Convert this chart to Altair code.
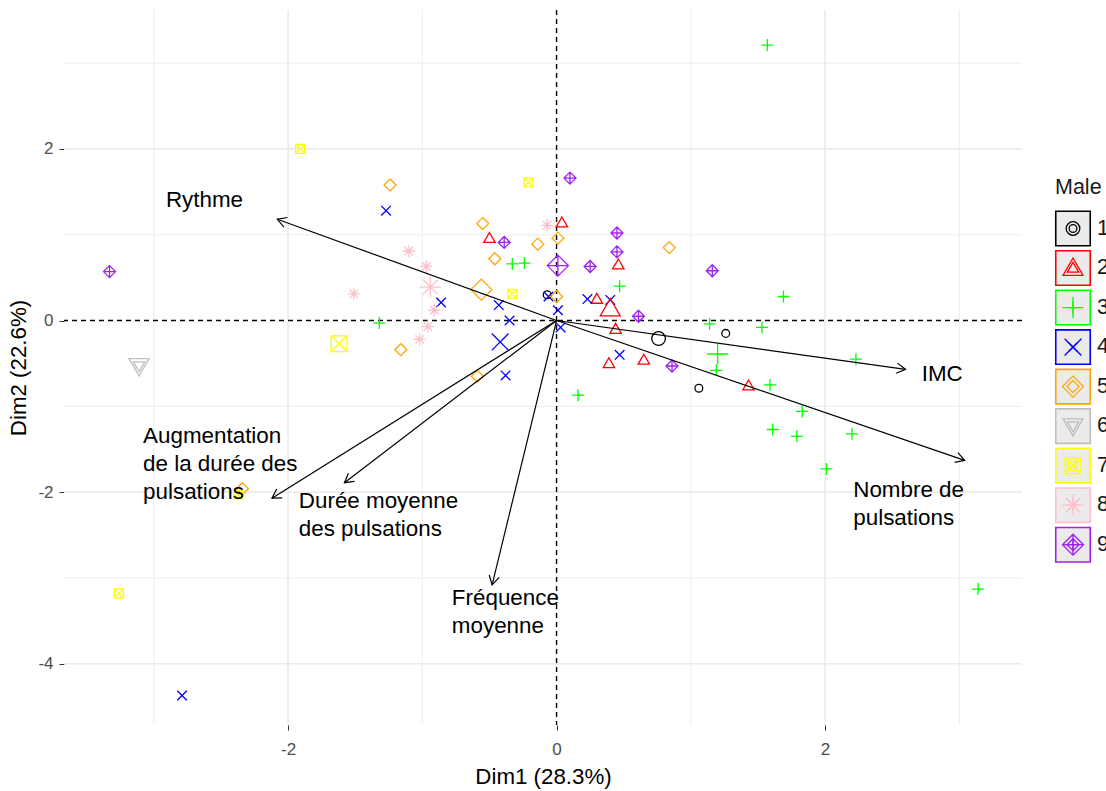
import math
import altair as alt
import pandas as pd

FONT = "Liberation Sans"

GROUPS = ["1", "2", "3", "4", "5", "6", "7", "8", "9"]
COLORS = ["#000000", "#FF0000", "#00FF00", "#0000FF", "#FFA500",
          "#BEBEBE", "#FFFF00", "#FFC0CB", "#A020F0"]
SHAPES = [
    "M0.65,0A0.65,0.65 0 1,1 -0.65,0A0.65,0.65 0 1,1 0.65,0Z",            # open circle
    "M0,-0.95L0.95,0.7L-0.95,0.7Z",                                        # triangle
    "M-1,0L1,0M0,-1L0,1",                                                  # plus
    "M-0.8,-0.8L0.8,0.8M-0.8,0.8L0.8,-0.8",                                # cross
    "M0,-1L1,0L0,1L-1,0Z",                                                 # diamond
    "M0,0.95L0.95,-0.7L-0.95,-0.7Z",                                       # triangle down
    "M-0.75,-0.75L0.75,-0.75L0.75,0.75L-0.75,0.75ZM-0.75,-0.75L0.75,0.75M-0.75,0.75L0.75,-0.75",  # square cross
    "M-1,0L1,0M0,-1L0,1M-0.7,-0.7L0.7,0.7M-0.7,0.7L0.7,-0.7",              # asterisk
    "M0,-1L1,0L0,1L-1,0ZM-1,0L1,0M0,-1L0,1",                               # diamond plus
]

# ---- individuals (Dim1, Dim2) by group ----
g1_x = [-0.07, 1.26, 1.06]
g1_y = [0.30, -0.15, -0.79]
g2_x = [0.04, -0.50, 0.46, 0.30, 0.44, 0.39, 0.65, 1.43]
g2_y = [1.14, 0.96, 0.65, 0.25, -0.10, -0.50, -0.46, -0.76]
g3_x = [1.57, -0.33, -0.24, 0.47, -1.32, 1.69, 1.14, 1.53, 2.23, 1.19,
        1.59, 0.16, 1.83, 1.61, 1.79, 2.20, 2.01, 3.14]
g3_y = [3.21, 0.66, 0.67, 0.40, -0.03, 0.28, -0.04, -0.08, -0.45, -0.58,
        -0.75, -0.87, -1.06, -1.27, -1.35, -1.32, -1.73, -3.13]
g4_x = [-1.27, -0.86, -0.43, -0.06, 0.01, 0.23, 0.40, -0.35, 0.03, 0.47, -0.38, -2.79]
g4_y = [1.28, 0.21, 0.18, 0.28, 0.12, 0.25, 0.24, 0.00, -0.08, -0.40, -0.64, -4.37]
g5_x = [-1.24, -0.55, -0.14, 0.01, 0.84, -0.46, 0.00, -1.16, -0.59, -2.34]
g5_y = [1.58, 1.13, 0.89, 0.96, 0.85, 0.72, 0.28, -0.34, -0.65, -1.96]
g6_x = [-3.11]
g6_y = [-0.53]
g7_x = [-1.91, -0.21, -0.33, -2.37, -3.26]
g7_y = [2.00, 1.61, 0.31, -2.03, -3.18]
g8_x = [-0.07, -1.10, -0.97, -1.51, -0.91, -0.96, -1.02]
g8_y = [1.11, 0.81, 0.63, 0.31, 0.12, -0.07, -0.22]
g9_x = [0.10, -0.39, 0.45, 0.45, 0.25, 1.16, 0.61, 0.86, -3.33]
g9_y = [1.66, 0.91, 1.02, 0.80, 0.63, 0.58, 0.05, -0.53, 0.57]

# ---- group centres ----
mean_x = [0.76, 0.40, 1.20, -0.42, -0.56, -3.11, -1.62, -0.94, 0.01]
mean_y = [-0.21, 0.14, -0.39, -0.25, 0.36, -0.53, -0.27, 0.39, 0.64]

# ---- variables (arrow tips) and their labels ----
var_names = ["Rythme", "IMC", "Nombre de\npulsations",
             "Augmentation\nde la durée des\npulsations",
             "Durée moyenne\ndes pulsations", "Fréquence\nmoyenne"]
var_x = [-2.08, 2.60, 3.04, -2.12, -1.58, -0.48]
var_y = [1.18, -0.57, -1.63, -2.07, -1.89, -3.08]
lab_x = [-2.91, 2.72, 2.21, -3.08, -1.92, -0.78]
lab_y = [1.53, -0.50, -1.85, -1.22, -1.98, -3.11]

X_DOMAIN = [-3.669, 3.467]
Y_DOMAIN = [-4.714, 3.619]
W, H = 958, 715
PX_X = W / (X_DOMAIN[1] - X_DOMAIN[0])
PX_Y = H / (Y_DOMAIN[1] - Y_DOMAIN[0])

groups_x = [g1_x, g2_x, g3_x, g4_x, g5_x, g6_x, g7_x, g8_x, g9_x]
groups_y = [g1_y, g2_y, g3_y, g4_y, g5_y, g6_y, g7_y, g8_y, g9_y]
rows = []
for g, xs_, ys_ in zip(GROUPS, groups_x, groups_y):
    for a, b in zip(xs_, ys_):
        rows.append({"group": g, "x": a, "y": b})
ind = pd.DataFrame(rows)
means = pd.DataFrame({"group": GROUPS, "x": mean_x, "y": mean_y})

angles = [(math.degrees(math.atan2(a * PX_X, b * PX_Y)) + 360) % 360
          for a, b in zip(var_x, var_y)]
vars_df = pd.DataFrame({"name": var_names, "x": var_x, "y": var_y,
                        "x0": [0.0] * 6, "y0": [0.0] * 6, "ang": angles,
                        "lx": lab_x, "ly": lab_y})

grid_major_x = [-2, 2]
grid_minor_x = [-3, -1, 1, 3]
grid_major_y = [-4, -2, 2]
grid_minor_y = [-3, -1, 1, 3]

xs = alt.Scale(domain=X_DOMAIN, nice=False, zero=False)
ys = alt.Scale(domain=Y_DOMAIN, nice=False, zero=False)
color_scale = alt.Scale(domain=GROUPS, range=COLORS)
shape_scale = alt.Scale(domain=GROUPS, range=SHAPES)

x_axis = alt.Axis(values=[-2, 0, 2], labelExpr="'' + datum.value", grid=False,
                  domain=False, ticks=True, tickSize=5, tickColor="#333333",
                  labelFontSize=17, labelColor="#4D4D4D", labelFont=FONT,
                  labelPadding=11, title="Dim1 (28.3%)", titleFontSize=22.3,
                  titleFont=FONT, titleFontWeight="normal", titleColor="#000000",
                  titlePadding=8)
y_axis = alt.Axis(values=[-4, -2, 0, 2], labelExpr="'' + datum.value", grid=False,
                  domain=False, ticks=True, tickSize=5, tickColor="#333333",
                  labelFontSize=17, labelColor="#4D4D4D", labelFont=FONT,
                  labelPadding=6, title="Dim2 (22.6%)", titleFontSize=22.3,
                  titleFont=FONT, titleFontWeight="normal", titleColor="#000000",
                  titlePadding=7)

gx_major = alt.Chart(pd.DataFrame({"v": grid_major_x})).mark_rule(
    color="#EBEBEB", strokeWidth=1.6).encode(x=alt.X("v:Q", scale=xs, axis=x_axis))
gx_minor = alt.Chart(pd.DataFrame({"v": grid_minor_x})).mark_rule(
    color="#F0F0F0", strokeWidth=1.2).encode(x=alt.X("v:Q", scale=xs))
gy_major = alt.Chart(pd.DataFrame({"v": grid_major_y})).mark_rule(
    color="#EBEBEB", strokeWidth=1.6).encode(y=alt.Y("v:Q", scale=ys, axis=y_axis))
gy_minor = alt.Chart(pd.DataFrame({"v": grid_minor_y})).mark_rule(
    color="#F0F0F0", strokeWidth=1.2).encode(y=alt.Y("v:Q", scale=ys))

zero_df = pd.DataFrame({"v": [0]})
zx = alt.Chart(zero_df).mark_rule(color="black", strokeDash=[5, 4], strokeWidth=1.4).encode(
    x=alt.X("v:Q", scale=xs))
zy = alt.Chart(zero_df).mark_rule(color="black", strokeDash=[5, 4], strokeWidth=1.4).encode(
    y=alt.Y("v:Q", scale=ys))

arrows = alt.Chart(vars_df).mark_rule(color="black", strokeWidth=1.2).encode(
    x=alt.X("x0:Q", scale=xs), y=alt.Y("y0:Q", scale=ys),
    x2="x:Q", y2="y:Q")
heads = alt.Chart(vars_df).mark_point(
    shape="M-0.5,0.866L0,0L0.5,0.866", filled=False, size=420,
    color="black", strokeWidth=1.2, opacity=1).encode(
    x=alt.X("x:Q", scale=xs), y=alt.Y("y:Q", scale=ys),
    angle=alt.Angle("ang:Q", scale=None))
labels = alt.Chart(vars_df).mark_text(
    align="left", baseline="top", fontSize=22.4, font=FONT, lineBreak="\n",
    lineHeight=27.7, color="#000000").encode(
    x=alt.X("lx:Q", scale=xs), y=alt.Y("ly:Q", scale=ys), text="name:N")

pts = alt.Chart(ind).mark_point(filled=False, size=144, strokeWidth=1.3, opacity=1).encode(
    x=alt.X("x:Q", scale=xs), y=alt.Y("y:Q", scale=ys),
    color=alt.Color("group:N", scale=color_scale, legend=None),
    shape=alt.Shape("group:N", scale=shape_scale, legend=None))
mpts = alt.Chart(means).mark_point(filled=False, size=441, strokeWidth=1.3, opacity=1).encode(
    x=alt.X("x:Q", scale=xs), y=alt.Y("y:Q", scale=ys),
    color=alt.Color("group:N", scale=color_scale, legend=None),
    shape=alt.Shape("group:N", scale=shape_scale, legend=None))

main = alt.layer(gx_minor, gy_minor, gx_major, gy_major, zx, zy,
                 pts, mpts, arrows, heads, labels)

# ---- legend ----
leg_df = pd.DataFrame({"group": GROUPS})
ly = alt.Y("group:N", scale=alt.Scale(type="point", domain=GROUPS,
                                      range=[218.5, 534.7], padding=0), axis=None)
leg_box = alt.Chart(leg_df).mark_point(shape="square", size=1190, filled=True,
                                       fill="#EBEBEB", strokeWidth=1.6, opacity=1).encode(
    x=alt.value(1009), y=ly,
    stroke=alt.Stroke("group:N", scale=color_scale, legend=None))
leg_small = alt.Chart(leg_df).mark_point(filled=False, size=144, strokeWidth=1.3, opacity=1).encode(
    x=alt.value(1009), y=ly,
    color=alt.Color("group:N", scale=color_scale, legend=None),
    shape=alt.Shape("group:N", scale=shape_scale, legend=None))
leg_big = alt.Chart(leg_df).mark_point(filled=False, size=441, strokeWidth=1.3, opacity=1).encode(
    x=alt.value(1009), y=ly,
    color=alt.Color("group:N", scale=color_scale, legend=None),
    shape=alt.Shape("group:N", scale=shape_scale, legend=None))
leg_text = alt.Chart(leg_df).mark_text(align="left", baseline="middle", fontSize=21.5,
                                       font=FONT, color="#1A1A1A").encode(
    x=alt.value(1033), y=ly, text="group:N")
leg_title = alt.Chart(pd.DataFrame({"t": ["Male"]})).mark_text(
    align="left", baseline="middle", fontSize=21.5, font=FONT, color="#1A1A1A").encode(
    x=alt.value(991), y=alt.value(178), text="t:N")

legend = alt.layer(leg_box, leg_small, leg_big, leg_text, leg_title)

chart = alt.layer(main, legend).resolve_scale(y="independent").properties(
    width=W, height=H,
    autosize=alt.AutoSizeParams(type="none"),
    padding={"left": 64, "top": 10, "right": 84, "bottom": 66},
    background="white",
).configure_view(stroke=None)

chart.save("out.html", embed_options={"renderer": "svg", "actions": False})
